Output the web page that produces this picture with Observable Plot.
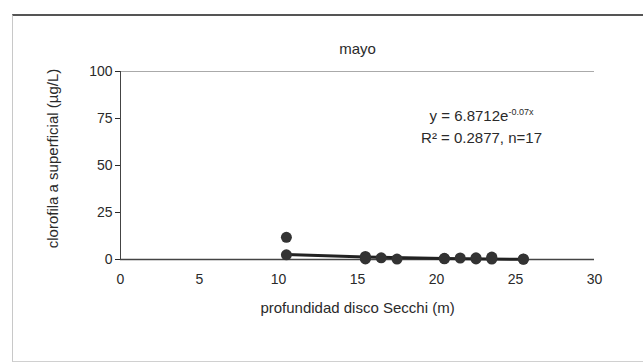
<!DOCTYPE html>
<html><head><meta charset="utf-8">
<script src="https://cdn.jsdelivr.net/npm/d3@7"></script>
<script src="https://cdn.jsdelivr.net/npm/@observablehq/plot@0.6"></script>
<style>
body{margin:0;background:#fff;}
#wrap{position:relative;width:643px;height:362px;overflow:hidden;background:#fff;}
#frame{position:absolute;left:12px;top:14px;width:640px;height:345px;border-top:2px solid #555;border-left:1px solid #c8c8c8;border-bottom:1px solid #d0d0d0;}
#chart{position:absolute;left:0;top:0;}
</style></head><body><div id="wrap"><div id="frame"></div><div id="chart"></div></div>
<script>
const title = "mayo";
const xLabel = "profundidad disco Secchi (m)";
const yLabel = "clorofila a superficial (µg/L)";
const secchi = [10.5, 10.5, 15.5, 15.5, 15.5, 16.5, 17.5, 20.5, 20.5, 21.5, 22.5, 22.5, 23.5, 23.5, 23.5, 25.5, 25.5];
const chl    = [11.8, 2.5, 1.6, 0.8, 0.3, 0.9, 0.2, 0.6, 0.4, 0.8, 0.9, 0.3, 1.3, 0.7, 0.2, 0.1, 0.3];
const trendX = [10.5, 15.5, 20.5, 25.5];
const trendY = [2.6, 1.3, 0.5, 0.1];
const xTicks = [0, 5, 10, 15, 20, 25, 30];
const yTicks = [0, 25, 50, 75, 100];
const eqMain = "y = 6.8712e";
const eqExp = "-0.07x";
const eqR2 = "R² = 0.2877, n=17";
const eqX = [24.55];
const eqY = [76.1];
const expY = [78.4];
const r2X = [22.85];
const r2Y = [64.4];

const pts = secchi.map((x, i) => ({x, y: chl[i]}));
const trend = trendX.map((x, i) => ({x, y: trendY[i]}));
const font = "'Liberation Sans', Arial, sans-serif";
const ink = "#2a2a2a";

const plot = Plot.plot({
  width: 643,
  height: 362,
  marginLeft: 120,
  marginRight: 49,
  marginTop: 71,
  marginBottom: 103,
  style: {background: "transparent", fontFamily: font, fontSize: "14px", color: ink},
  x: {domain: [0, 30]},
  y: {domain: [0, 100]},
  marks: [
    Plot.ruleY([100], {stroke: "#aaa", strokeWidth: 1}),
    Plot.ruleX([0], {stroke: "#444", strokeWidth: 1}),
    Plot.ruleY([0], {stroke: "#444", strokeWidth: 1.3}),
    Plot.axisX({ticks: xTicks, tickSize: 0, tickPadding: 15, label: null, fontSize: 14}),
    Plot.axisY({ticks: yTicks, tickSize: 5, tickPadding: 3, label: null, fontSize: 14}),
    Plot.line(trend, {x: "x", y: "y", stroke: "#222", strokeWidth: 3}),
    Plot.dot(pts, {x: "x", y: "y", r: 5.5, fill: "#333", stroke: "none"}),
    Plot.text([title], {frameAnchor: "top", dy: -28, fontSize: 15, fill: ink}),
    Plot.text([xLabel], {frameAnchor: "bottom", dy: 53, fontSize: 15, fill: ink}),
    Plot.text([yLabel], {frameAnchor: "left", textAnchor: "middle", dx: -67, dy: -7, rotate: -90, fontSize: 15, fill: ink}),
    Plot.text([eqMain], {x: () => eqX[0], y: () => eqY[0], textAnchor: "end", fontSize: 15, fill: ink}),
    Plot.text([eqExp], {x: () => eqX[0], y: () => expY[0], textAnchor: "start", fontSize: 9, fill: ink}),
    Plot.text([eqR2], {x: () => r2X[0], y: () => r2Y[0], textAnchor: "middle", fontSize: 15, fill: ink})
  ]
});
document.getElementById("chart").appendChild(plot);
</script>
</body></html>
